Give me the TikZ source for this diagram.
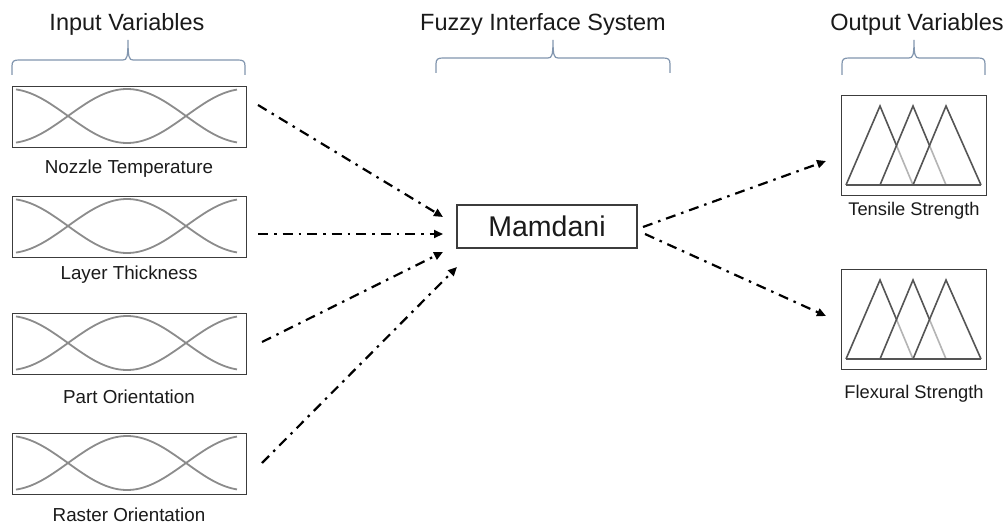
\documentclass[tikz,border=0pt]{standalone}
\usepackage{fontspec}
\setmainfont{Liberation Sans}
\usetikzlibrary{arrows.meta}
\definecolor{txt}{HTML}{1A1A1A}
\definecolor{boxc}{HTML}{3C3C3C}
\definecolor{curvec}{HTML}{8C8C8C}
\definecolor{bracec}{HTML}{8296AF}
\definecolor{trid}{HTML}{555555}
\definecolor{tril}{HTML}{B4B4B4}
\tikzset{
  hdr/.style={anchor=base, text=txt, inner sep=0pt, font=\fontsize{23.5}{28}\selectfont},
  lbl/.style={anchor=base, text=txt, inner sep=0pt, font=\fontsize{18.8}{22}\selectfont},
  mfbox/.style={draw=boxc, line width=1.2pt, anchor=north west, inner sep=0pt},
  curve/.style={draw=curvec, line width=1.8pt},
  bracep/.style={draw=bracec, line width=1.2pt},
  flow/.style={line width=2.2pt, dash pattern=on 10pt off 6pt on 2.5pt off 6pt,
    -{Triangle[length=9pt,width=8pt]}},
  tri/.style={draw=trid, line width=1.6pt, line join=miter},
  tril/.style={draw=tril, line width=1.6pt}
}
\begin{document}
\begin{tikzpicture}[x=1pt,y=-1pt]
\useasboundingbox (0,0) rectangle (1003,524);
\fill[white] (0,0) rectangle (1003,524);

% headers
\node[hdr] (h1) at (127,31) {Input Variables};
\node[hdr] (h2) at (543,31) {Fuzzy Interface System};
\node[hdr] (h3) at (917,31) {Output Variables};

% braces
\draw[bracep] (12,75) -- (12,66) .. controls (12,61) and (14,60) .. (19,60) -- (123,60)
  .. controls (127,60) and (128,57) .. (128,40) .. controls (128,57) and (129,60) .. (133,60)
  -- (238,60) .. controls (243,60) and (245,61) .. (245,66) -- (245,75);
\draw[bracep] (436,73) -- (436,64) .. controls (436,59) and (438,58) .. (443,58) -- (548,58)
  .. controls (552,58) and (553,55) .. (553,40) .. controls (553,55) and (554,58) .. (558,58)
  -- (663,58) .. controls (668,58) and (670,59) .. (670,64) -- (670,73);
\draw[bracep] (842,75) -- (842,64) .. controls (842,59) and (844,58) .. (849,58) -- (909,58)
  .. controls (913,58) and (914,55) .. (914,40) .. controls (914,55) and (915,58) .. (919,58)
  -- (978,58) .. controls (983,58) and (985,59) .. (985,64) -- (985,75);

% input boxes
\foreach \n/\t in {1/86, 2/196, 3/313, 4/433}{
  \node[mfbox, minimum width=234pt, minimum height=61pt] (in\n) at (12,\t) {};
  \pgfmathsetmacro{\yc}{\t+30}
  \draw[curve] plot[domain=16:237, samples=80, smooth] (\x, {\yc + 27*cos((\x-127)*1.52542)});
  \draw[curve] plot[domain=16:237, samples=80, smooth] (\x, {\yc - 27*cos((\x-127)*1.52542)});
}
\node[lbl] (l1) at (129,173) {Nozzle Temperature};
\node[lbl] (l2) at (129,279) {Layer Thickness};
\node[lbl] (l3) at (129,403) {Part Orientation};
\node[lbl] (l4) at (129,521) {Raster Orientation};

% Mamdani
\node[draw=boxc, line width=1.2pt, minimum width=180pt, minimum height=43pt, inner sep=0pt,
  text=txt, font=\fontsize{28.5}{32}\selectfont] (mam) at (547,226.5) {Mamdani};

% output boxes
\foreach \n/\t in {1/95, 2/269}{
  \node[mfbox, minimum width=145pt, minimum height=100pt] (out\n) at (841,\t) {};
  \pgfmathsetmacro{\pk}{\t+11}
  \pgfmathsetmacro{\bs}{\t+90}
  \pgfmathsetmacro{\md}{\t+50.5}
  \draw[tril] (896.5,\md) -- (913,\bs);
  \draw[tril] (929.5,\md) -- (946,\bs);
  \draw[tri] (846,\bs) -- (981,\bs);
  \draw[tri] (846,\bs) -- (880,\pk) -- (896.5,\md);
  \draw[tri] (880,\bs) -- (913,\pk) -- (929.5,\md);
  \draw[tri] (913,\bs) -- (946,\pk) -- (981,\bs);
}
\node[lbl, font=\fontsize{18.3}{22}\selectfont] (o1) at (914,215) {Tensile Strength};
\node[lbl, font=\fontsize{18.3}{22}\selectfont] (o2) at (914,398) {Flexural Strength};

% connector endpoints
\coordinate (s1) at (258,105);
\coordinate (s2) at (258,234);
\coordinate (s3) at (262,342);
\coordinate (s4) at (262,463);
\coordinate (e1) at (443,217);
\coordinate (e2) at (443,234);
\coordinate (e3) at (443,252);
\coordinate (e4) at (457,267);
\coordinate (ms1) at (643,227);
\coordinate (ms2) at (645,234);
\coordinate (t1) at (826,161);
\coordinate (t2) at (826,316);

\draw[flow] (s1) -- (e1);
\draw[flow] (s2) -- (e2);
\draw[flow] (s3) -- (e3);
\draw[flow] (s4) -- (e4);
\draw[flow] (ms1) -- (t1);
\draw[flow] (ms2) -- (t2);
\end{tikzpicture}
\end{document}
